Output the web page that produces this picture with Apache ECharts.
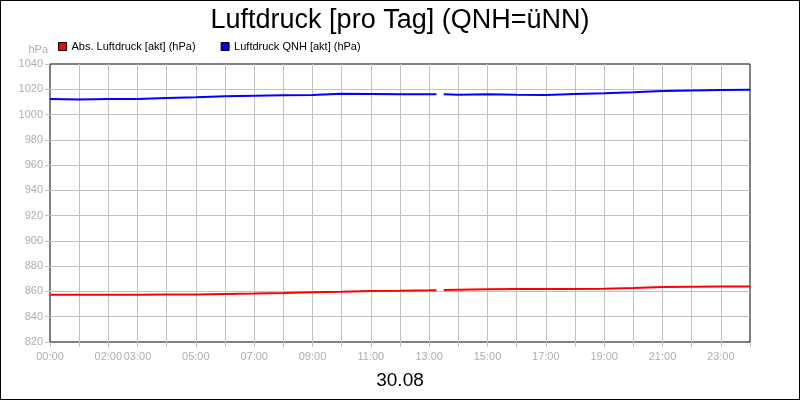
<!DOCTYPE html>
<html>
<head>
<meta charset="utf-8">
<script src="https://cdn.jsdelivr.net/npm/echarts@6/dist/echarts.min.js"></script>
<style>
  html, body { margin: 0; padding: 0; background: #fff; }
  #chart { width: 800px; height: 400px; box-sizing: border-box; border: 1px solid #000; }
</style>
</head>
<body>
<div id="chart"></div>
<script>
// Stunden des Tages (30.08), Lücke kurz nach 13:15
const hours = [0, 1, 2, 3, 4, 5, 6, 7, 8, 9, 10, 11, 12, 13, 13.25, 13.4, 13.5, 14, 15, 16, 17, 18, 19, 20, 21, 22, 23, 24];
const absDruck = [857.4, 857.3, 857.3, 857.4, 857.5, 857.6, 858.0, 858.3, 858.7, 859.3, 859.8, 860.4, 860.6, 860.9, 861.0, null, 861.1, 861.4, 861.7, 862.0, 862.0, 862.0, 862.2, 862.7, 863.5, 863.8, 864.0, 864.0];
const qnhDruck = [1012.3, 1012.0, 1012.3, 1012.3, 1013.1, 1013.6, 1014.4, 1014.9, 1015.2, 1015.5, 1016.5, 1016.3, 1016.0, 1016.0, 1016.1, null, 1016.0, 1015.7, 1016.0, 1015.7, 1015.5, 1016.3, 1016.8, 1017.6, 1018.6, 1019.1, 1019.4, 1019.7];
const labelHours = [0, 2, 3, 5, 7, 9, 11, 13, 15, 17, 19, 21, 23];
const seriesNames = ['Abs. Luftdruck [akt] (hPa)', 'Luftdruck QNH [akt] (hPa)'];

const font = "'Liberation Sans', Arial, sans-serif";
const grey = '#aeaeae';

const myChart = echarts.init(document.getElementById('chart'));
const pairs = (vals) => hours.map((h, i) => [h, vals[i]]);

const option = {
  animation: false,
  textStyle: { fontFamily: font },
  title: {
    text: 'Luftdruck [pro Tag] (QNH=üNN)',
    left: 'center',
    top: 1,
    textStyle: { fontSize: 27, fontWeight: 'normal', color: '#000', fontFamily: font }
  },
  legend: {
    left: 52,
    top: 35,
    icon: 'rect',
    itemWidth: 8,
    itemHeight: 8,
    itemGap: 25,
    itemStyle: { borderColor: '#000', borderWidth: 1 },
    textStyle: { fontSize: 11, color: '#000', fontFamily: font },
    data: seriesNames
  },
  grid: {
    left: 49,
    right: 49,
    top: 63,
    bottom: 57,
    show: true,
    borderColor: '#000',
    borderWidth: 1
  },
  xAxis: {
    type: 'value',
    min: 0,
    max: 24,
    interval: 1,
    name: '30.08',
    nameLocation: 'middle',
    nameGap: 29,
    nameTextStyle: { fontSize: 19, color: '#000', fontFamily: font },
    axisLine: { show: false },
    axisTick: { show: true, length: 5, lineStyle: { color: '#c0c0c0' } },
    axisLabel: {
      margin: 9,
      fontSize: 11,
      color: grey,
      fontFamily: font,
      formatter: (v) => labelHours.indexOf(v) >= 0 ? String(v).padStart(2, '0') + ':00' : ''
    },
    splitLine: { show: true, showMinLine: false, showMaxLine: false, lineStyle: { color: '#c0c0c0', width: 1 } }
  },
  yAxis: {
    type: 'value',
    min: 820,
    max: 1040,
    interval: 20,
    name: 'hPa',
    nameLocation: 'end',
    nameGap: 9,
    nameTextStyle: { fontSize: 11, color: grey, align: 'right', padding: [0, 2, 0, 0], fontFamily: font },
    axisLine: { show: false },
    axisTick: { show: true, length: 5, lineStyle: { color: '#c0c0c0' } },
    axisLabel: { margin: 7, fontSize: 11, color: grey, fontFamily: font, formatter: (v) => String(v) },
    splitLine: { show: true, showMinLine: false, showMaxLine: false, lineStyle: { color: '#c0c0c0', width: 1 } }
  },
  series: [{
    name: seriesNames[0],
    type: 'line',
    data: pairs(absDruck),
    showSymbol: false,
    connectNulls: false,
    itemStyle: { color: '#ff0000' },
    lineStyle: { width: 2, color: '#ff0000' }
  }, {
    name: seriesNames[1],
    type: 'line',
    data: pairs(qnhDruck),
    showSymbol: false,
    connectNulls: false,
    itemStyle: { color: '#0000ff' },
    lineStyle: { width: 2, color: '#0000ff' }
  }]
};
myChart.setOption(option);
</script>
</body>
</html>
